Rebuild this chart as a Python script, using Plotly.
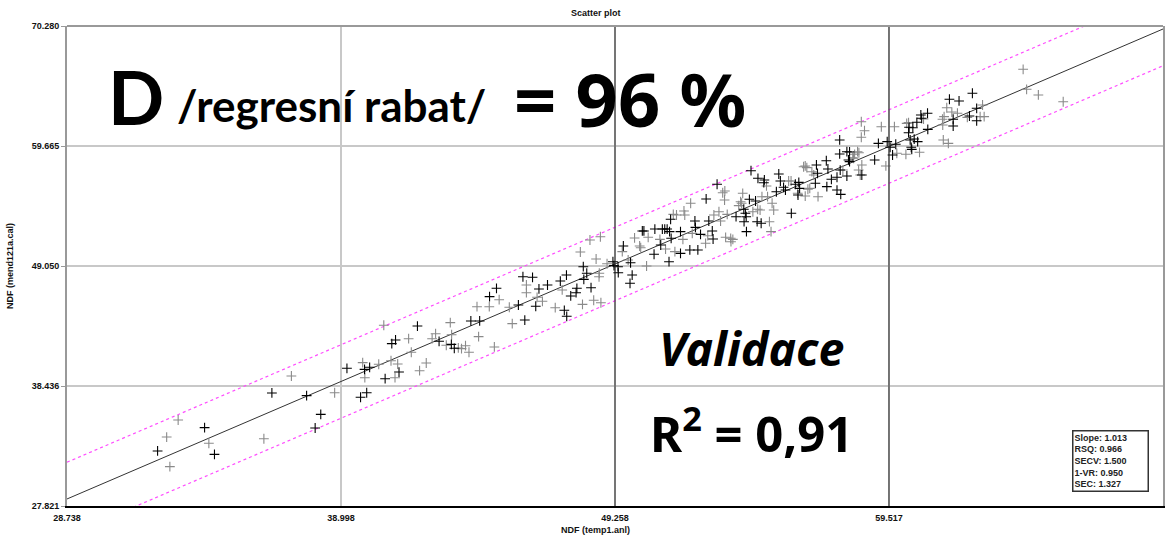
import plotly.graph_objects as go

# ---------------- data ----------------
x_ticks = [28.738, 38.998, 49.258, 59.517, 69.777]
y_ticks = [27.821, 38.436, 49.050, 59.665, 70.280]
x_tick_labels = ["28.738", "38.998", "49.258", "59.517", "69.777"]
y_tick_labels = ["27.821", "38.436", "49.050", "59.665", "70.280"]

fit_slope = 1.013
fit_intercept = -0.67
band_offset = 3.25

stats_labels = ["Slope", "RSQ", "SECV", "1-VR", "SEC"]
stats_values = ["1.013", "0.966", "1.500", "0.950", "1.327"]

x_black = [32.13, 33.89, 34.26, 36.41, 37.71, 38.03, 38.24, 39.22, 39.73, 39.88, 39.96, 40.07,
           40.65, 40.90, 41.04, 41.17, 41.86, 42.67, 43.13, 43.24, 43.86, 44.19, 44.56, 44.82,
           45.64, 45.81, 45.88, 46.17, 46.29, 46.41, 46.73, 47.21, 47.36, 47.44, 47.45, 47.60,
           47.80, 47.83, 48.07, 48.09, 48.20, 48.36, 49.18, 49.22, 49.37, 49.38, 49.57, 49.84,
           49.90, 49.82, 50.28, 50.34, 50.72, 50.75, 50.97, 51.03, 51.12, 51.21, 51.28, 51.30,
           51.34, 51.36, 51.71, 51.71, 52.06, 52.25, 52.27, 52.36, 52.46, 52.67, 52.77, 52.90,
           52.93, 53.08, 53.79, 54.08, 54.09, 54.17, 54.14, 54.18, 54.29, 54.35, 54.52, 54.61,
           54.58, 54.73, 54.83, 54.85, 55.30, 55.39, 55.45, 55.57, 55.64, 55.86, 56.01, 56.14,
           56.17, 56.80, 56.11, 56.76, 56.84, 57.17, 57.19, 57.23, 57.36, 57.57, 57.57, 57.71,
           57.67, 57.67, 57.69, 57.94, 58.04, 57.94, 58.00, 58.04, 58.50, 58.98, 59.12, 59.45,
           59.56, 59.65, 59.77, 60.27, 60.25, 60.31, 60.35, 60.37, 60.41, 60.46, 60.56, 60.59,
           60.71, 60.74, 60.96, 60.97, 61.78, 61.92, 61.92, 62.14, 62.53, 62.64, 62.80, 62.80]
y_black = [32.69, 34.75, 32.39, 37.82, 37.58, 34.72, 35.93, 40.00, 37.44, 39.91, 37.84, 40.09,
           39.08, 42.18, 42.51, 39.67, 43.74, 42.39, 42.12, 41.77, 44.19, 44.19, 46.34, 47.08,
           45.60, 48.10, 44.27, 48.05, 45.49, 47.02, 47.37, 47.72, 45.13, 48.25, 44.60, 46.40,
           46.69, 47.08, 48.99, 47.87, 48.41, 47.13, 49.43, 49.08, 48.99, 48.46, 50.82, 49.34,
           48.25, 47.52, 52.15, 52.15, 50.09, 52.32, 50.91, 52.32, 52.32, 52.32, 49.43, 52.09,
           53.18, 51.50, 52.09, 50.17, 50.47, 53.03, 52.47, 50.47, 51.85, 54.98, 53.03, 52.15,
           51.44, 56.28, 53.41, 54.07, 52.97, 53.41, 53.71, 52.09, 54.95, 57.48, 54.80, 56.81,
           52.97, 52.83, 56.42, 56.66, 55.62, 57.19, 56.57, 56.01, 55.77, 53.71, 56.28, 56.45,
           55.92, 57.99, 55.33, 56.37, 57.25, 58.36, 56.07, 57.63, 56.72, 56.90, 55.77, 55.39,
           58.96, 60.20, 57.54, 59.16, 59.14, 57.01, 58.43, 58.28, 57.10, 58.43, 59.90, 60.05,
           59.55, 58.87, 59.82, 61.32, 60.84, 60.20, 59.55, 59.37, 61.28, 60.28, 61.76, 60.05,
           62.41, 62.12, 62.56, 61.14, 63.80, 61.43, 62.03, 63.65, 62.32, 64.33, 63.00, 61.90]

x_grey = [32.47, 32.59, 32.90, 34.05, 36.11, 37.14, 38.76, 39.81, 39.89, 40.41, 40.60, 40.87,
          41.02, 41.12, 41.53, 41.63, 41.94, 42.19, 42.41, 42.54, 42.94, 43.09, 43.14, 43.39,
          43.51, 43.66, 43.79, 44.09, 44.15, 44.55, 44.74, 44.92, 45.30, 45.41, 45.94, 45.94,
          46.34, 46.54, 47.02, 47.28, 47.96, 48.04, 48.32, 48.46, 48.55, 48.66, 48.67, 48.71,
          48.73, 48.96, 49.53, 49.75, 49.99, 50.18, 50.22, 50.44, 50.50, 50.94, 51.15, 51.44,
          51.50, 51.56, 51.80, 51.84, 51.87, 52.09, 52.15, 52.65, 52.73, 52.96, 53.15, 53.21,
          53.29, 53.37, 53.36, 53.40, 53.46, 53.59, 53.67, 53.60, 53.89, 53.96, 54.00, 54.04,
          54.42, 54.60, 54.69, 54.76, 54.93, 54.97, 55.04, 55.10, 55.14, 55.20, 55.76, 55.85,
          56.10, 56.32, 56.38, 56.44, 56.48, 56.55, 56.63, 56.70, 56.86, 56.38, 57.79, 58.16,
          58.23, 58.19, 58.34, 58.39, 58.38, 58.44, 58.48, 58.48, 58.50, 58.60, 59.23, 59.40,
          59.72, 59.81, 60.15, 60.18, 60.25, 60.66, 60.81, 61.52, 61.53, 61.55, 61.58, 61.68,
          61.74, 61.87, 62.08, 62.45, 62.93, 63.08, 63.02, 64.54, 64.67, 65.11, 66.04]
y_grey = [33.92, 31.30, 35.43, 33.37, 33.77, 39.32, 37.84, 40.50, 39.17, 40.36, 43.81, 40.67,
          39.17, 40.38, 42.62, 41.42, 39.79, 40.47, 42.62, 43.06, 42.04, 44.04, 42.97, 41.80,
          41.74, 42.00, 41.42, 45.45, 42.80, 45.45, 41.89, 46.07, 45.40, 43.95, 47.37, 46.69,
          46.28, 45.93, 45.36, 46.93, 50.29, 45.66, 51.35, 46.02, 49.67, 48.10, 48.41, 51.64,
          45.80, 49.25, 50.32, 49.58, 51.53, 50.82, 50.67, 49.05, 51.59, 51.41, 50.55, 53.62,
          50.32, 53.56, 51.41, 53.92, 53.56, 54.60, 51.94, 51.06, 51.73, 53.56, 53.85, 53.03,
          55.53, 55.69, 54.89, 51.59, 53.62, 51.50, 51.41, 51.20, 54.39, 54.74, 54.60, 55.48,
          53.85, 54.07, 54.00, 55.18, 56.13, 55.18, 52.97, 52.09, 54.60, 54.00, 56.57, 56.57,
          55.48, 57.83, 57.90, 57.75, 55.84, 55.92, 57.39, 57.10, 55.18, 55.24, 57.54, 58.63,
          58.93, 58.58, 59.16, 59.07, 57.54, 57.10, 61.81, 60.44, 57.99, 61.02, 61.37, 57.90,
          61.37, 59.02, 58.93, 61.67, 61.73, 59.11, 62.05, 62.03, 61.52, 60.20, 62.26, 63.05,
          59.90, 62.67, 62.56, 62.20, 62.26, 62.26, 63.29, 66.45, 64.68, 64.18, 63.58]

# ---------------- figure ----------------
x_lo, x_hi = x_ticks[0], x_ticks[-1]
y_lo, y_hi = y_ticks[0], y_ticks[-1]
line_x = [x_lo, x_hi]
line_y = [fit_intercept + fit_slope * v for v in line_x]

AX_FONT = dict(family="Liberation Sans, Arial, sans-serif", size=9,
               color="#111", weight="bold")

fig = go.Figure()

fig.add_trace(go.Scatter(x=line_x, y=[v + band_offset for v in line_y], mode="lines",
                         line=dict(color="#ff4dff", width=1.2, dash="dot"), hoverinfo="skip"))
fig.add_trace(go.Scatter(x=line_x, y=[v - band_offset for v in line_y], mode="lines",
                         line=dict(color="#ff4dff", width=1.2, dash="dot"), hoverinfo="skip"))
fig.add_trace(go.Scatter(x=line_x, y=line_y, mode="lines",
                         line=dict(color="#333333", width=1), hoverinfo="skip"))

fig.add_trace(go.Scatter(x=x_grey, y=y_grey, mode="markers",
                         marker=dict(symbol="cross-thin", size=7,
                                     line=dict(color="#8a8a8a", width=1.1))))
fig.add_trace(go.Scatter(x=x_black, y=y_black, mode="markers",
                         marker=dict(symbol="cross-thin", size=7,
                                     line=dict(color="#000000", width=1.1))))

# dark vertical reference lines at the two middle x ticks
for xv in x_ticks[2:4]:
    fig.add_shape(type="line", xref="x", yref="paper", x0=xv, x1=xv, y0=0, y1=1,
                  line=dict(color="#222222", width=1), layer="above")
# top border
fig.add_shape(type="line", xref="paper", yref="paper", x0=0, x1=1, y0=1, y1=1,
              line=dict(color="#999999", width=2))

fig.update_xaxes(range=[x_lo, x_hi], tickvals=x_ticks, ticktext=x_tick_labels,
                 tickfont=AX_FONT, showgrid=True, gridcolor="#c8c8c8", gridwidth=2,
                 showline=True, linecolor="#000000", linewidth=2, zeroline=False,
                 ticks="", ticklabelstandoff=2)
fig.update_yaxes(range=[y_lo, y_hi], tickvals=y_ticks, ticktext=y_tick_labels,
                 tickfont=AX_FONT, showgrid=True, gridcolor="#c8c8c8", gridwidth=2,
                 showline=True, linecolor="#999999", linewidth=2, mirror=True,
                 zeroline=False, ticks="outside", ticklen=4, tickcolor="#999999")

annotations = [
    dict(text="Scatter plot", x=0.4827, y=1.027, xref="paper", yref="paper",
         showarrow=False, font=AX_FONT, xanchor="center", yanchor="middle"),
    dict(text="NDF (temp1.anl)", x=0.4818, y=-0.05, xref="paper", yref="paper",
         showarrow=False, font=AX_FONT, xanchor="center", yanchor="middle"),
    dict(text="NDF (mend121a.cal)", x=-0.052, y=0.5, xref="paper", yref="paper",
         showarrow=False, font=AX_FONT, textangle=-90, xanchor="center", yanchor="middle"),
    dict(text="<br>".join(f"{a}: {b}" for a, b in zip(stats_labels, stats_values)),
         x=0.917, y=0.1583, xref="paper", yref="paper", showarrow=False,
         align="left", xanchor="left", yanchor="top",
         font=dict(family="Liberation Sans, Arial, sans-serif", size=9,
                   color="#222", weight="bold"),
         bgcolor="white", bordercolor="#333", borderwidth=1.5, borderpad=1, width=72),
    dict(text="<b>D</b>", x=0.0355, y=0.853, xref="paper", yref="paper", showarrow=False,
         xanchor="left", yanchor="middle",
         font=dict(family="Lato, sans-serif", size=74, color="black")),
    dict(text="<b>/regresní rabat/</b>", x=0.0985, y=0.835, xref="paper", yref="paper",
         showarrow=False, xanchor="left", yanchor="middle",
         font=dict(family="Lato, sans-serif", size=44, color="black")),
    dict(text="<b>= 96 %</b>", x=0.4061, y=0.85, xref="paper", yref="paper",
         showarrow=False, xanchor="left", yanchor="middle",
         font=dict(family="Noto Sans, sans-serif", size=74, color="black")),
    dict(text="<b><i>Validace</i></b>", x=0.5383, y=0.329, xref="paper", yref="paper",
         showarrow=False, xanchor="left", yanchor="middle",
         font=dict(family="Noto Sans, sans-serif", size=46.5, color="black")),
    dict(text="<b>R<sup>2</sup> = 0,91</b>", x=0.530, y=0.159, xref="paper", yref="paper",
         showarrow=False, xanchor="left", yanchor="middle",
         font=dict(family="Noto Sans, sans-serif", size=49, color="black")),
]

fig.update_layout(width=1176, height=536, margin=dict(l=67, r=11, t=26, b=30),
                  paper_bgcolor="white", plot_bgcolor="white", showlegend=False,
                  annotations=annotations)

fig.write_html("out.html")
